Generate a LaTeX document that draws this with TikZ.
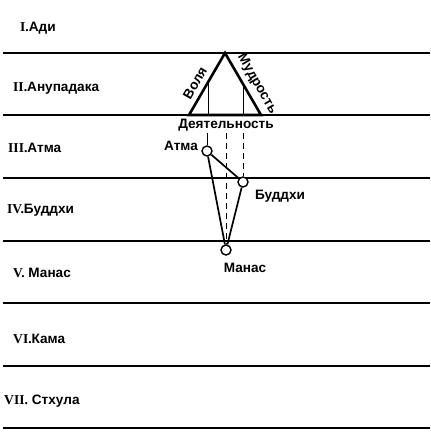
\documentclass[tikz,border=0pt]{standalone}
\usepackage{fontspec}
\setmainfont{Liberation Sans}
\newfontfamily\romfont{Liberation Serif}
\usetikzlibrary{calc}

\begin{document}
\begin{tikzpicture}[x=1pt,y=1pt,
  every node/.style={inner sep=0pt},
  txt/.style={font=\fontsize{13.6}{15}\selectfont\bfseries},
  planeline/.style={line width=2.6pt},
  plane/.style={txt,anchor=west},
  dot/.style={circle,draw,fill=white,line width=1.4pt,minimum size=10pt},
  edge/.style={line width=1.7pt},
  proj/.style={line width=0.8pt,dash pattern=on 6pt off 4pt}
  ]
  \useasboundingbox (0,0) rectangle (430,-435);

  \foreach \y in {53,115,178,241,303,366,428}
    \draw[planeline] (3,-\y) -- (430,-\y);

  \node[plane] (adi) at (20,-28) {{\romfont I.}Ади};
  \node[plane] (anupadaka) at (13,-88) {{\romfont II.}Анупадака};
  \node[plane] (atmaplane) at (8,-148) {{\romfont III.}Атма};
  \node[plane] (buddhiplane) at (7,-210) {{\romfont IV.}Буддхи};
  \node[plane] (manasplane) at (13,-273) {{\romfont V.} Манас};
  \node[plane] (kama) at (13,-339) {{\romfont VI.}Кама};
  \node[plane] (sthula) at (4,-401) {{\romfont VII.} Стхула};

  \coordinate (top) at (225,-53);
  \coordinate (bl) at (189,-115);
  \coordinate (br) at (261,-115);
  \coordinate (v1) at ($(bl)!.53!(top)$);
  \coordinate (v2) at ($(br)!.5!(top)$);
  \draw[line width=0.8pt] (v1) -- (v1 |- bl);
  \draw[line width=0.8pt] (v2) -- (v2 |- br);
  \draw[line width=2.6pt,line join=miter] (bl) -- (top) -- (br) -- cycle;
  \node[txt,rotate=60] (volya) at (195,-83) {Воля};
  \node[txt,rotate=-60] (mudrost) at (257,-84) {Мудрость};
  \node[txt] (deyat) at (226,-125) {Деятельность};

  \node[dot] (atma) at (207,-151) {};
  \node[dot] (buddhi) at (243,-182) {};
  \node[dot] (manas) at (226,-250) {};
  \draw[line width=0.8pt] ([yshift=-2pt]deyat.south -| atma) -- (atma);
  \draw[proj] ([yshift=-2pt]deyat.south -| buddhi) -- (buddhi);
  \draw[proj] ([yshift=-2pt]deyat.south -| manas) -- (manas);
  \draw[edge] (atma) -- (buddhi);
  \draw[edge] (buddhi) -- (manas);
  \draw[edge] (manas) -- (atma);

  \node[txt] (atmalabel) at (181,-146) {Атма};
  \node[txt] (buddhilabel) at (280,-196) {Буддхи};
  \node[txt] (manaslabel) at (245,-268) {Манас};
\end{tikzpicture}
\end{document}
